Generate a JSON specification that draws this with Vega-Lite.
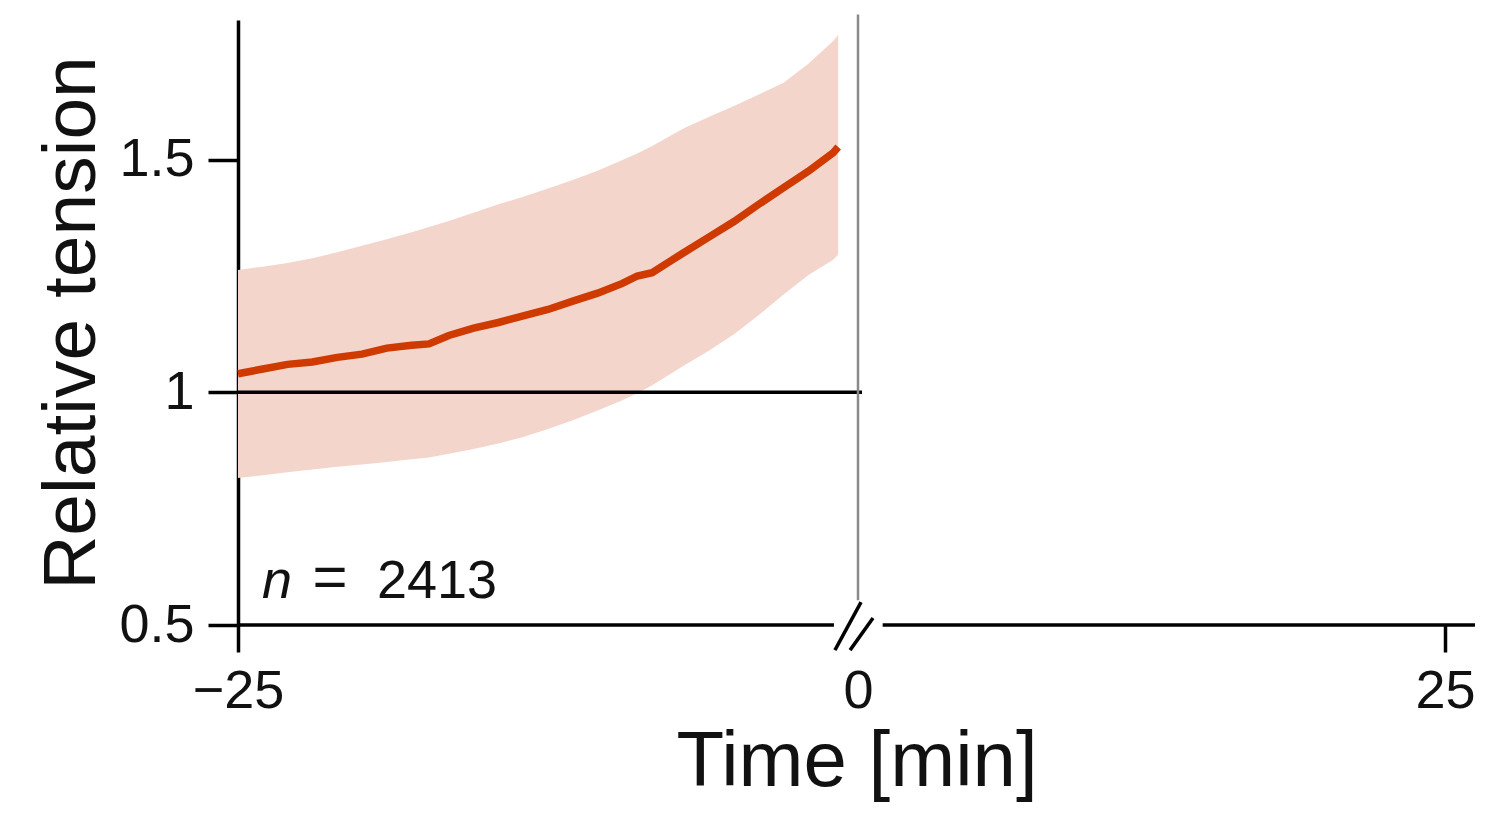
{
  "$schema": "https://vega.github.io/schema/vega-lite/v6.json",
  "width": 1237,
  "height": 605,
  "autosize": "none",
  "padding": {"left": 238, "top": 20, "right": 10, "bottom": 188},
  "background": "white",
  "config": {"view": {"stroke": null}, "font": "Liberation Sans"},
  "datasets": {
    "series": [
      {"t": -25, "mean": 1.040, "lo": 0.816, "hi": 1.263},
      {"t": -24, "mean": 1.050, "lo": 0.822, "hi": 1.270},
      {"t": -23, "mean": 1.060, "lo": 0.828, "hi": 1.278},
      {"t": -22, "mean": 1.065, "lo": 0.834, "hi": 1.288},
      {"t": -21, "mean": 1.075, "lo": 0.840, "hi": 1.301},
      {"t": -20, "mean": 1.082, "lo": 0.845, "hi": 1.315},
      {"t": -19, "mean": 1.095, "lo": 0.850, "hi": 1.329},
      {"t": -18, "mean": 1.101, "lo": 0.856, "hi": 1.344},
      {"t": -17.3, "mean": 1.104, "lo": 0.860, "hi": 1.355},
      {"t": -16.5, "mean": 1.122, "lo": 0.868, "hi": 1.368},
      {"t": -15.5, "mean": 1.138, "lo": 0.878, "hi": 1.386},
      {"t": -14.5, "mean": 1.150, "lo": 0.890, "hi": 1.404},
      {"t": -13.5, "mean": 1.164, "lo": 0.904, "hi": 1.420},
      {"t": -12.5, "mean": 1.178, "lo": 0.921, "hi": 1.438},
      {"t": -11.5, "mean": 1.196, "lo": 0.940, "hi": 1.456},
      {"t": -10.5, "mean": 1.213, "lo": 0.961, "hi": 1.476},
      {"t": -9.5, "mean": 1.234, "lo": 0.983, "hi": 1.499},
      {"t": -8.9, "mean": 1.250, "lo": 0.998, "hi": 1.513},
      {"t": -8.3, "mean": 1.257, "lo": 1.015, "hi": 1.529},
      {"t": -7.6, "mean": 1.281, "lo": 1.038, "hi": 1.550},
      {"t": -7, "mean": 1.301, "lo": 1.058, "hi": 1.568},
      {"t": -6, "mean": 1.334, "lo": 1.090, "hi": 1.592},
      {"t": -5, "mean": 1.367, "lo": 1.125, "hi": 1.615},
      {"t": -4, "mean": 1.404, "lo": 1.166, "hi": 1.640},
      {"t": -3, "mean": 1.440, "lo": 1.210, "hi": 1.665},
      {"t": -2, "mean": 1.475, "lo": 1.252, "hi": 1.706},
      {"t": -1, "mean": 1.515, "lo": 1.285, "hi": 1.755},
      {"t": -0.8, "mean": 1.527, "lo": 1.296, "hi": 1.768}
    ]
  },
  "encoding": {
    "x": {
      "type": "quantitative",
      "scale": {"domain": [-25, 0, 25, 26.2], "range": [0, 620, 1207, 1237], "nice": false, "zero": false},
      "axis": {
        "title": "Time [min]",
        "values": [-25, 0, 25],
        "domain": false,
        "grid": false,
        "tickSize": 27,
        "tickWidth": 3.5,
        "tickColor": "black",
        "tickOpacity": {"condition": {"test": "datum.value === 0", "value": 0}, "value": 1},
        "labelFlush": false,
        "labelFontSize": 54,
        "labelColor": "#111",
        "labelPadding": 12,
        "labelFont": "Liberation Sans",
        "titleFont": "Liberation Sans",
        "titleFontSize": 78,
        "titleFontWeight": "normal",
        "titleColor": "#111",
        "titlePadding": 5
      }
    }
  },
  "layer": [
    {
      "data": {"name": "series"},
      "mark": {"type": "area", "color": "#f3d5cc", "opacity": 1},
      "encoding": {
        "x": {"field": "t", "type": "quantitative"},
        "y": {
          "field": "lo",
          "type": "quantitative",
          "scale": {"domain": [0.5, 1.8], "nice": false, "zero": false},
          "axis": {
            "title": "Relative tension",
            "values": [0.5, 1, 1.5],
            "labelExpr": "toString(datum.value)",
            "grid": false,
            "domainColor": "black",
            "domainWidth": 3.5,
            "tickSize": 30,
            "tickWidth": 3.5,
            "tickColor": "black",
            "labelFlush": false,
            "labelFontSize": 54,
            "labelColor": "#111",
            "labelPadding": 14,
            "labelFont": "Liberation Sans",
            "titleFont": "Liberation Sans",
            "titleFontSize": 75,
            "titleFontWeight": "normal",
            "titleColor": "#111",
            "titlePadding": 8
          }
        },
        "y2": {"field": "hi"}
      }
    },
    {
      "data": {"values": [{}]},
      "mark": {"type": "rule", "color": "black", "strokeWidth": 3.5},
      "encoding": {
        "x": {"datum": -25, "type": "quantitative"},
        "x2": {"datum": 0.17},
        "y": {"datum": 1, "type": "quantitative"}
      }
    },
    {
      "data": {"name": "series"},
      "mark": {"type": "line", "color": "#cf3a00", "strokeWidth": 7.5},
      "encoding": {
        "x": {"field": "t", "type": "quantitative"},
        "y": {"field": "mean", "type": "quantitative"}
      }
    },
    {
      "data": {"values": [{}]},
      "mark": {"type": "rule", "color": "#8a8a8a", "strokeWidth": 2.5},
      "encoding": {
        "x": {"datum": 0, "type": "quantitative"},
        "y": {"datum": 0.553, "type": "quantitative"},
        "y2": {"datum": 1.812}
      }
    },
    {
      "data": {"values": [{}]},
      "mark": {"type": "rule", "color": "black", "strokeWidth": 3.5},
      "encoding": {
        "x": {"datum": -25, "type": "quantitative"},
        "x2": {"datum": -0.97},
        "y": {"datum": 0.5, "type": "quantitative"}
      }
    },
    {
      "data": {"values": [{}]},
      "mark": {"type": "rule", "color": "black", "strokeWidth": 3.5},
      "encoding": {
        "x": {"datum": 1.05, "type": "quantitative"},
        "x2": {"datum": 26.2},
        "y": {"datum": 0.5, "type": "quantitative"}
      }
    },
    {
      "data": {"values": [{}]},
      "mark": {"type": "rule", "color": "black", "strokeWidth": 3.5},
      "encoding": {
        "x": {"datum": -0.93, "type": "quantitative"},
        "x2": {"datum": 0.13},
        "y": {"datum": 0.446, "type": "quantitative"},
        "y2": {"datum": 0.549}
      }
    },
    {
      "data": {"values": [{}]},
      "mark": {"type": "rule", "color": "black", "strokeWidth": 3.5},
      "encoding": {
        "x": {"datum": -0.32, "type": "quantitative"},
        "x2": {"datum": 0.64},
        "y": {"datum": 0.446, "type": "quantitative"},
        "y2": {"datum": 0.515}
      }
    },
    {
      "data": {"values": [{}]},
      "mark": {"type": "text", "text": "n", "font": "Liberation Sans", "fontStyle": "italic", "fontSize": 54, "align": "left", "baseline": "alphabetic", "color": "#111"},
      "encoding": {
        "x": {"datum": -24.03, "type": "quantitative"},
        "y": {"datum": 0.558, "type": "quantitative"}
      }
    },
    {
      "data": {"values": [{}]},
      "mark": {"type": "text", "text": "=", "font": "Liberation Sans", "fontSize": 60, "align": "left", "baseline": "alphabetic", "color": "#111"},
      "encoding": {
        "x": {"datum": -22.0, "type": "quantitative"},
        "y": {"datum": 0.56, "type": "quantitative"}
      }
    },
    {
      "data": {"values": [{}]},
      "mark": {"type": "text", "text": "2413", "font": "Liberation Sans", "fontSize": 54, "align": "left", "baseline": "alphabetic", "color": "#111"},
      "encoding": {
        "x": {"datum": -19.4, "type": "quantitative"},
        "y": {"datum": 0.558, "type": "quantitative"}
      }
    }
  ]
}
